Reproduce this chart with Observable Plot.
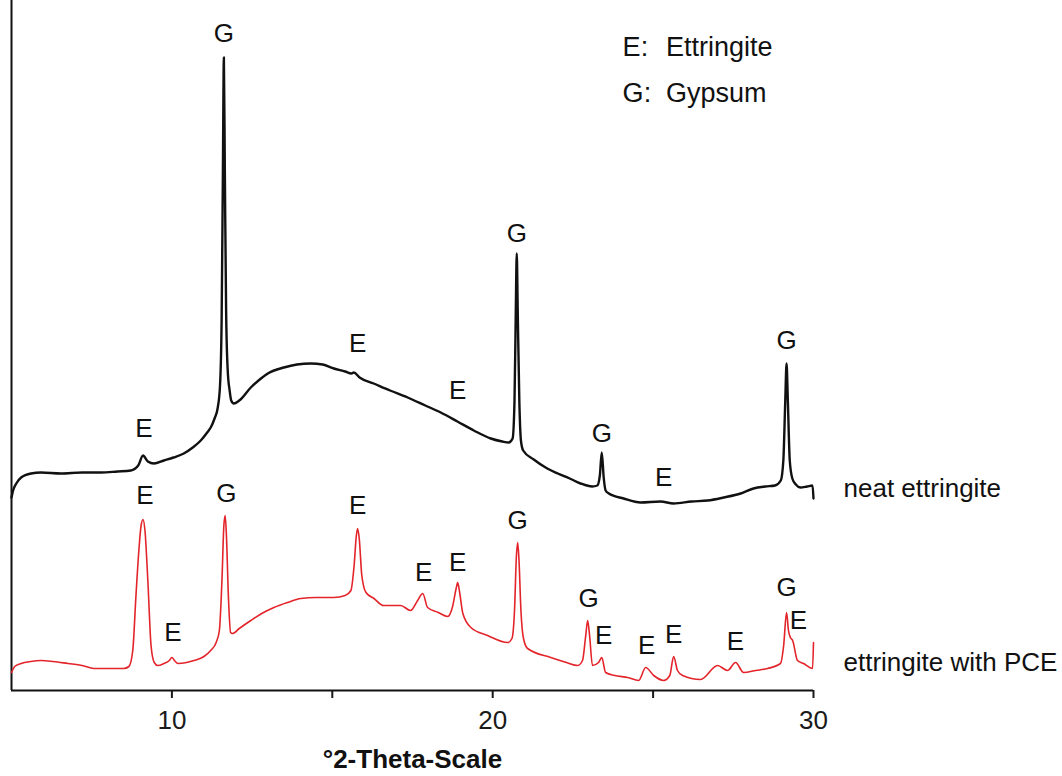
<!DOCTYPE html>
<html>
<head>
<meta charset="utf-8">
<script src="https://cdn.jsdelivr.net/npm/d3@7"></script>
<script src="https://cdn.jsdelivr.net/npm/@observablehq/plot@0.6"></script>
<style>
  html, body { margin: 0; padding: 0; background: #fff; }
  #chart { width: 1062px; height: 776px; }
</style>
</head>
<body>
<div id="chart"></div>
<script>
// ---- Data (x: °2θ, y: intensity in arbitrary units) ----
const neatTheta = [5.00, 5.05, 5.15, 5.30, 5.61, 5.92, 6.54, 7.20, 7.79, 8.30, 8.72, 8.95, 9.10, 9.25, 9.44, 9.75, 10.05, 10.37, 10.65, 10.90, 11.10, 11.21, 11.33, 11.43, 11.50, 11.55, 11.59, 11.62, 11.65, 11.69, 11.74, 11.80, 11.85, 11.93, 12.10, 12.46, 12.70, 12.99, 13.49, 13.90, 14.33, 14.70, 15.05, 15.40, 15.60, 15.67, 15.85, 16.29, 16.80, 17.35, 17.90, 18.38, 18.90, 19.41, 19.94, 20.30, 20.50, 20.62, 20.68, 20.72, 20.75, 20.78, 20.83, 20.88, 20.95, 21.28, 21.70, 22.03, 22.40, 22.74, 23.10, 23.26, 23.34, 23.40, 23.46, 23.52, 23.62, 24.08, 24.61, 25.23, 25.64, 26.20, 26.70, 27.20, 27.73, 28.13, 28.50, 28.80, 28.98, 29.06, 29.12, 29.16, 29.20, 29.26, 29.34, 29.45, 29.59, 29.80, 29.97, 30.00];
const neatIntensity = [193, 200, 207, 213, 217, 218, 217, 218, 218, 219, 220, 225, 235, 229, 227, 230, 233, 237, 243, 250, 258, 263, 272, 283, 305, 370, 520, 633, 520, 380, 320, 300, 290, 287, 290, 303, 310, 317, 323, 326, 327, 326, 322, 319, 317, 318, 313, 307, 300, 293, 285, 278, 269, 260, 252, 249, 248, 252, 290, 380, 437, 380, 290, 250, 240, 231, 222, 217, 212, 207, 204, 205, 215, 238, 213, 200, 197, 192, 188, 189, 187, 189, 190, 193, 197, 202, 204, 205, 210, 230, 290, 327, 290, 230, 212, 206, 203, 204, 205, 192];

const pceTheta = [5.00, 5.10, 5.30, 5.60, 5.92, 6.30, 6.76, 7.20, 7.57, 8.10, 8.50, 8.66, 8.78, 8.88, 8.97, 9.04, 9.10, 9.16, 9.25, 9.35, 9.45, 9.56, 9.75, 9.92, 10.00, 10.08, 10.19, 10.69, 11.00, 11.21, 11.38, 11.48, 11.56, 11.62, 11.66, 11.70, 11.76, 11.83, 11.89, 12.10, 12.46, 12.80, 13.18, 13.60, 14.02, 14.50, 15.05, 15.40, 15.58, 15.68, 15.75, 15.79, 15.84, 15.92, 16.05, 16.30, 16.60, 17.13, 17.44, 17.66, 17.82, 17.97, 18.30, 18.60, 18.75, 18.86, 18.91, 18.97, 19.07, 19.32, 19.84, 20.47, 20.60, 20.68, 20.74, 20.78, 20.82, 20.88, 20.96, 21.09, 21.81, 22.30, 22.65, 22.80, 22.90, 22.96, 23.02, 23.11, 23.30, 23.40, 23.52, 23.80, 24.21, 24.55, 24.77, 25.02, 25.33, 25.52, 25.64, 25.76, 25.92, 26.48, 27.01, 27.32, 27.57, 27.82, 28.20, 28.57, 28.97, 29.07, 29.16, 29.22, 29.28, 29.35, 29.50, 29.69, 29.97, 30.00];
const pceIntensity = [18, 24, 27, 29, 30, 29, 27, 25, 22, 22, 22, 24, 40, 95, 140, 165, 171, 160, 110, 45, 28, 25, 27, 30, 33, 30, 27, 30, 34, 40, 48, 60, 110, 165, 175, 155, 95, 58, 57, 62, 70, 77, 83, 88, 92, 93, 93, 95, 100, 125, 155, 162, 152, 115, 98, 92, 85, 85, 80, 90, 97, 83, 78, 74, 84, 102, 108, 98, 77, 63, 55, 48, 52, 80, 135, 148, 130, 80, 52, 42, 33, 28, 25, 30, 55, 70, 55, 25, 28, 33, 18, 15, 13, 10, 23, 15, 10, 15, 34, 20, 15, 11, 25, 20, 28, 18, 20, 22, 27, 45, 78, 60, 53, 50, 30, 27, 22, 48];

// Peak annotations
const neatLabelText  = ["E", "G", "E", "E", "G", "G", "E", "G"];
const neatLabelTheta = [9.13, 11.62, 15.79, 18.91, 20.75, 23.40, 25.33, 29.16];
const neatLabelI     = [262, 657, 347, 300, 457, 257, 213, 350];

const pceLabelText  = ["E", "E", "G", "E", "E", "E", "G", "G", "E", "E", "E", "E", "G", "E"];
const pceLabelTheta = [9.16, 10.03, 11.70, 15.79, 17.85, 18.91, 20.78, 22.99, 23.46, 24.80, 25.64, 27.57, 29.16, 29.53];
const pceLabelI     = [195, 58, 197, 185, 118, 128, 170, 92, 55, 45, 56, 49, 103, 70];

// Series names (placed right of the curve ends)
const seriesNames = ["neat ettringite", "ettringite with PCE"];
const seriesNameI = [202, 28];

// Key
const keyCodes = ["E:", "G:"];
const keyNames = ["Ettringite", "Gypsum"];
const keyI = [643, 597];

const xTicks = [10, 15, 20, 25, 30];
const xTickLabels = {10: "10", 20: "20", 30: "30"};
const xTitle = "°2-Theta-Scale";

// ---- Build tables ----
const neat = neatTheta.map((t, i) => ({t, v: neatIntensity[i]}));
const pce = pceTheta.map((t, i) => ({t, v: pceIntensity[i]}));
const neatLabels = neatLabelText.map((s, i) => ({s, t: neatLabelTheta[i], v: neatLabelI[i]}));
const pceLabels = pceLabelText.map((s, i) => ({s, t: pceLabelTheta[i], v: pceLabelI[i]}));
const names = seriesNames.map((s, i) => ({s, t: 30, v: seriesNameI[i]}));
const keyCode = keyCodes.map((s, i) => ({s, t: 24.05, v: keyI[i]}));
const keyName = keyNames.map((s, i) => ({s, t: 25.40, v: keyI[i]}));

const font = "'Liberation Sans', Arial, Helvetica, sans-serif";

const chart = Plot.plot({
  width: 1062,
  height: 776,
  marginLeft: 11,
  marginRight: 249,
  marginTop: 0,
  marginBottom: 86,
  x: {domain: [5, 30]},
  y: {domain: [0, 690], axis: null},
  style: {fontFamily: font, fontSize: "26px", color: "#1a1a1a", background: "#fff", overflow: "visible"},
  marks: [
    Plot.axisX({
      ticks: xTicks,
      tickFormat: d => xTickLabels[d] ?? "",
      tickSize: 8,
      tickPadding: 12,
      strokeWidth: 2,
      fontSize: 26,
      label: null
    }),
    Plot.ruleY([0], {strokeWidth: 2, stroke: "#111"}),
    Plot.ruleX([5], {strokeWidth: 2, stroke: "#111"}),
    Plot.line(neat, {x: "t", y: "v", stroke: "#111", strokeWidth: 2.4, curve: "monotone-x", strokeLinejoin: "round"}),
    Plot.line(pce, {x: "t", y: "v", stroke: "#e3242b", strokeWidth: 1.6, curve: "monotone-x", strokeLinejoin: "round"}),
    Plot.text(neatLabels, {x: "t", y: "v", text: "s", fontSize: 26, fill: "#111"}),
    Plot.text(pceLabels, {x: "t", y: "v", text: "s", fontSize: 26, fill: "#111"}),
    Plot.text(names, {x: "t", y: "v", text: "s", dx: 30, textAnchor: "start", fontSize: 26, fill: "#111"}),
    Plot.text(keyCode, {x: "t", y: "v", text: "s", textAnchor: "start", fontSize: 27, fill: "#111"}),
    Plot.text(keyName, {x: "t", y: "v", text: "s", textAnchor: "start", fontSize: 27, fill: "#111"}),
    Plot.text([xTitle], {frameAnchor: "bottom", dy: 77, text: d => d, fontSize: 26, fontWeight: "bold", fill: "#111"})
  ]
});
document.getElementById("chart").appendChild(chart);
</script>
</body>
</html>
